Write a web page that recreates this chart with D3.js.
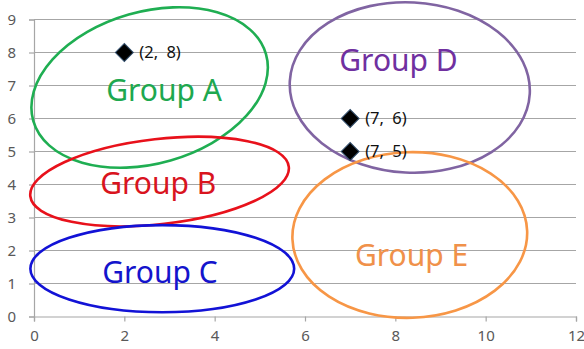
<!DOCTYPE html>
<html>
<head>
<meta charset="utf-8">
<script src="https://cdn.jsdelivr.net/npm/d3@7"></script>
<style>
  html, body { margin: 0; padding: 0; background: #fff; }
  svg { display: block; }
  text { font-family: "Noto Sans", "DejaVu Sans", sans-serif; }
</style>
</head>
<body>
<svg id="chart" width="584" height="349"></svg>
<script>
// Axis ticks
const xTicks = [0, 2, 4, 6, 8, 10, 12];
const yTicks = [0, 1, 2, 3, 4, 5, 6, 7, 8, 9];

// Highlighted points
const pointX = [2, 7, 7];
const pointY = [8, 6, 5];
const pointLabels = ["(2, 8)", "(7, 6)", "(7, 5)"];

// Group ellipses (data units), tilt in degrees (counter-clockwise)
const groupNames = ["Group A", "Group B", "Group C", "Group D", "Group E"];
const groupCx    = [2.56, 2.78, 2.84, 8.32, 8.32];
const groupCy    = [6.94, 4.09, 1.45, 6.94, 2.47];
const groupRx    = [2.68, 2.88, 2.92, 2.66, 2.60];
const groupRy    = [2.30, 1.29, 1.32, 2.58, 2.51];
const groupTilt  = [16, 6.5, 0, -3, 2];
// Group label anchor (text centre x, baseline y) in data units
const groupLabelX = [2.88, 2.75, 2.79, 8.07, 8.36];
const groupLabelY = [6.53, 3.70, 1.01, 7.44, 1.53];

const strokeColors = ["#1fae52", "#e8111b", "#1212d6", "#8064a2", "#f79646"];
const textColors   = ["#1ea84f", "#d9141e", "#1414cc", "#7030a0", "#f0914a"];

const svg = d3.select("#chart");
const x = d3.scaleLinear().domain([0, 12]).range([34, 576]);
const y = d3.scaleLinear().domain([0, 9]).range([316.5, 19.5]);

// Horizontal gridlines
svg.append("g")
  .selectAll("line")
  .data(yTicks.filter(d => d > 0))
  .join("line")
  .attr("x1", x(0)).attr("x2", x(12))
  .attr("y1", d => y(d)).attr("y2", d => y(d))
  .attr("stroke", "#a6a6a6").attr("stroke-width", 1.2);

// X axis
const xAxis = svg.append("g")
  .attr("transform", `translate(0,${y(0)})`)
  .call(d3.axisBottom(x).tickValues(xTicks).tickSize(5).tickPadding(9).tickFormat(d3.format("d")));
xAxis.select(".domain").attr("stroke", "#a6a6a6").attr("stroke-width", 1.2);
xAxis.selectAll(".tick line").attr("stroke", "#a6a6a6").attr("stroke-width", 1.2);
xAxis.selectAll(".tick text").attr("fill", "#595959")
  .style("font-family", "'Noto Sans', sans-serif").style("font-size", "15px");

// Y axis
const yAxis = svg.append("g")
  .attr("transform", `translate(${x(0)},0)`)
  .call(d3.axisLeft(y).tickValues(yTicks).tickSize(5).tickPadding(13).tickFormat(d3.format("d")));
yAxis.select(".domain").attr("stroke", "#a6a6a6").attr("stroke-width", 1.2);
yAxis.selectAll(".tick line").attr("stroke", "#a6a6a6").attr("stroke-width", 1.2);
yAxis.selectAll(".tick text").attr("fill", "#595959")
  .style("font-family", "'Noto Sans', sans-serif").style("font-size", "15px");

// Group ellipses
const groups = groupNames.map((name, i) => ({
  name, cx: groupCx[i], cy: groupCy[i], rx: groupRx[i], ry: groupRy[i],
  tilt: groupTilt[i], lx: groupLabelX[i], ly: groupLabelY[i],
  stroke: strokeColors[i], fill: textColors[i]
}));

svg.append("g")
  .selectAll("ellipse")
  .data(groups)
  .join("ellipse")
  .attr("cx", d => x(d.cx))
  .attr("cy", d => y(d.cy))
  .attr("rx", d => x(d.rx) - x(0))
  .attr("ry", d => y(0) - y(d.ry))
  .attr("transform", d => `rotate(${-d.tilt},${x(d.cx)},${y(d.cy)})`)
  .attr("fill", "none")
  .attr("stroke", d => d.stroke)
  .attr("stroke-width", 2.6);

// Group labels
svg.append("g")
  .selectAll("text")
  .data(groups)
  .join("text")
  .attr("x", d => x(d.lx))
  .attr("y", d => y(d.ly))
  .attr("text-anchor", "middle")
  .attr("fill", d => d.fill)
  .style("font-size", "30px")
  .text(d => d.name);

// Diamond markers
const points = pointX.map((px, i) => ({ x: px, y: pointY[i], label: pointLabels[i] }));
const diamond = d3.symbol().type(d3.symbolSquare).size(160);
svg.append("g")
  .selectAll("path")
  .data(points)
  .join("path")
  .attr("d", diamond)
  .attr("transform", d => `translate(${x(d.x)},${y(d.y)}) rotate(45)`)
  .attr("fill", "#000")
  .attr("stroke", "#34506e")
  .attr("stroke-width", 1);

// Point labels
svg.append("g")
  .selectAll("text")
  .data(points)
  .join("text")
  .attr("x", d => x(d.x) + 15)
  .attr("y", d => y(d.y))
  .attr("dy", "0.36em")
  .attr("fill", "#111")
  .style("font-size", "16.5px")
  .style("word-spacing", "4px")
  .text(d => d.label);
</script>
</body>
</html>
